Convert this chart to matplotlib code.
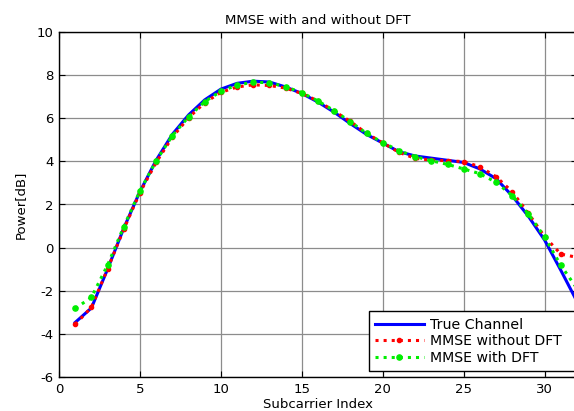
import matplotlib
matplotlib.use("Agg")
import matplotlib.pyplot as plt
import numpy as np

subcarriers = list(range(1, 33))
true_channel = [-3.47, -2.8, -1.0, 0.9, 2.6, 4.05, 5.25, 6.15, 6.85, 7.35, 7.62, 7.72, 7.68, 7.45,
                7.15, 6.75, 6.28, 5.75, 5.25, 4.85, 4.45, 4.25, 4.15, 4.05, 3.95, 3.65, 3.2, 2.4,
                1.45, 0.35, -1.05, -2.5]
mmse_without_dft = [-3.56, -2.77, -0.99, 0.85, 2.55, 3.95, 5.12, 6.02, 6.72, 7.2, 7.45, 7.55, 7.52,
                    7.4, 7.15, 6.8, 6.33, 5.85, 5.3, 4.86, 4.42, 4.14, 4.06, 4.03, 3.99, 3.75, 3.29,
                    2.59, 1.59, 0.51, -0.3, -0.45]
mmse_with_dft = [-2.82, -2.31, -0.81, 0.97, 2.63, 4.02, 5.19, 6.06, 6.77, 7.25, 7.54, 7.67, 7.65,
                 7.46, 7.19, 6.8, 6.35, 5.84, 5.30, 4.87, 4.50, 4.22, 4.03, 3.86, 3.65, 3.43, 3.03,
                 2.41, 1.56, 0.49, -0.82, -1.9]
xticks = [0, 5, 10, 15, 20, 25, 30]
yticks = [-6, -4, -2, 0, 2, 4, 6, 8, 10]

plt.rcParams['font.family'] = ['DejaVu Sans']
plt.rcParams['axes.unicode_minus'] = False

W, H = 574, 411
fig = plt.figure(figsize=(W / 100, H / 100), dpi=100)
ax = fig.add_axes([59 / W, 34 / H, 518 / W, 345 / H])

ax.plot(subcarriers, true_channel, color='#0000ff', lw=2.2, label='True Channel', zorder=3)
ax.plot(subcarriers, mmse_without_dft, color='#ff0000', ls=':', lw=2.2, marker='.', ms=6,
        label='MMSE without DFT', zorder=4)
ax.plot(subcarriers, mmse_with_dft, color='#00ee00', ls=':', lw=2.2, marker='.', ms=7.5,
        label='MMSE with DFT', zorder=5)

ax.set_xlim(0, 32)
ax.set_ylim(-6, 10)
ax.set_xticks(xticks)
ax.set_yticks(yticks)
ax.tick_params(direction='in', top=True, right=True, labelsize=9.5, length=4, pad=4)
ax.grid(True, color='0.55', lw=0.9, ls='-')
ax.set_axisbelow(True)
for s in ax.spines.values():
    s.set_linewidth(1.0)

ax.set_title('MMSE with and without DFT', fontsize=9.5, pad=6)
ax.set_xlabel('Subcarrier Index', fontsize=9.5, labelpad=2)
ax.set_ylabel('Power[dB]', fontsize=9.5, labelpad=7)

leg = ax.legend(loc='lower left', bbox_to_anchor=(369 / W, 40 / H, 212 / W, 56 / H),
                bbox_transform=fig.transFigure, mode='expand',
                fontsize=10.2, frameon=True, fancybox=False, edgecolor='black', framealpha=1,
                borderpad=0.45, handlelength=3.4, handletextpad=0.45, labelspacing=0.18,
                borderaxespad=0.0)
leg.get_frame().set_linewidth(1.0)

fig.savefig('out.png', dpi=100)
